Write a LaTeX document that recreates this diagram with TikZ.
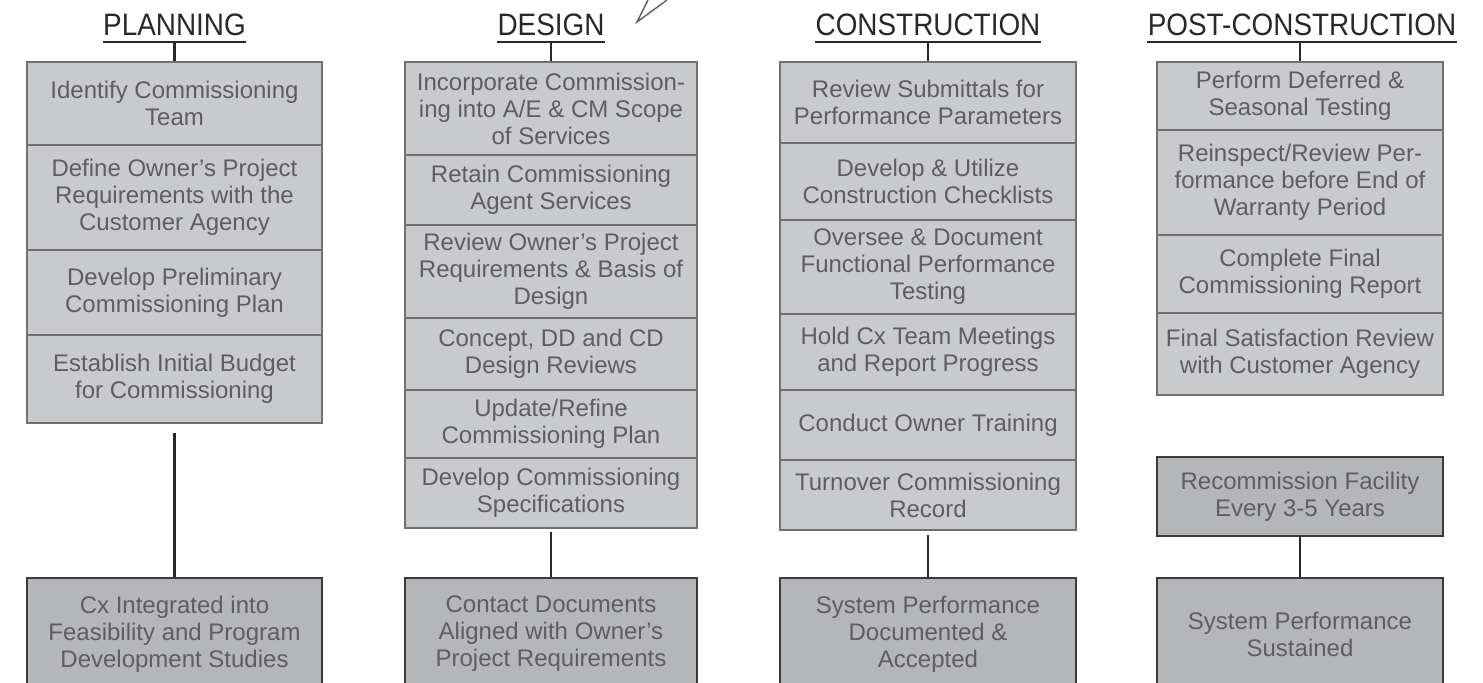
\documentclass[tikz,border=0pt]{standalone}
\usepackage{fontspec}
\setmainfont{Liberation Sans}
\newfontfamily\ttlfont[FakeStretch=0.9]{Liberation Sans}
\definecolor{lfill}{RGB}{201,202,204}
\definecolor{dfill}{RGB}{181,182,184}
\definecolor{lborder}{RGB}{112,112,114}
\definecolor{dborder}{RGB}{58,58,60}
\definecolor{txtgray}{RGB}{94,94,96}
\definecolor{ttl}{RGB}{40,40,42}
\tikzset{
  lbox/.style={draw=lborder, fill=lfill, line width=1.4pt, inner sep=0pt, align=center,
    text=txtgray, font=\fontsize{12}{13.5}\selectfont},
  dbox/.style={lbox, draw=dborder, fill=dfill},
  ttlnode/.style={inner sep=0pt, anchor=base, text=ttl, font=\ttlfont\fontsize{15.5}{17}\selectfont},
  uline/.style={draw=ttl, line width=1.1pt},
  conn/.style={draw=ttl, line width=1.2pt},
  callout/.style={draw=txtgray, line width=0.7pt, line join=miter},
  w1/.style={minimum width=147.5pt},
  w2/.style={minimum width=146pt},
  w3/.style={minimum width=148pt},
  w4/.style={minimum width=143pt},
}
\begin{document}
\begin{tikzpicture}[x=0.5pt,y=-0.5pt]
\useasboundingbox (0,0) rectangle (1483,682);
\fill[white] (0,0) rectangle (1483,682);

% ---------- titles ----------
\node[ttlnode] (t1) at (174.5,35) {PLANNING};
\node[ttlnode] (t2) at (551,35) {DESIGN};
\node[ttlnode] (t3) at (928,35) {CONSTRUCTION};
\node[ttlnode] (t4) at (1302,35) {POST-CONSTRUCTION};
\foreach \t in {t1,t2,t3,t4}{
  \draw[uline] ([yshift=-3.5pt]\t.base west) -- ([yshift=-3.5pt]\t.base east);
}

% callout mark
\coordinate (ca) at (637,22);
\coordinate (cb) at (648,0);
\coordinate (cc) at (667,0);
\draw[callout] (cb) -- (ca) -- (cc);

% ---------- PLANNING ----------
\node[lbox,w1,minimum height=41.5pt] (p1) at (174.5,103.5) {Identify Commissioning\\Team};
\node[lbox,w1,minimum height=52.5pt] (p2) at (174.5,197.5) {Define Owner's Project\\Requirements with the\\Customer Agency};
\node[lbox,w1,minimum height=42.5pt] (p3) at (174.5,292.5) {Develop Preliminary\\Commissioning Plan};
\node[lbox,w1,minimum height=44pt] (p4) at (174.5,379) {Establish Initial Budget\\for Commissioning};
\node[dbox,w1,minimum height=56pt] (pb) at (174.5,634) {Cx Integrated into\\Feasibility and Program\\Development Studies};

% ---------- DESIGN ----------
\node[lbox,w2,minimum height=46.5pt] (d1) at (551,108.5) {Incorporate Commission-\\ing into A/E \& CM Scope\\of Services};
\node[lbox,w2,minimum height=35pt] (d2) at (551,190) {Retain Commissioning\\Agent Services};
\node[lbox,w2,minimum height=46.5pt] (d3) at (551,271.5) {Review Owner's Project\\Requirements \& Basis of\\Design};
\node[lbox,w2,minimum height=36pt] (d4) at (551,354) {Concept, DD and CD\\Design Reviews};
\node[lbox,w2,minimum height=34pt] (d5) at (551,424) {Update/Refine\\Commissioning Plan};
\node[lbox,w2,minimum height=35pt] (d6) at (551,493) {Develop Commissioning\\Specifications};
\node[dbox,w2,minimum height=56pt] (db) at (551,634) {Contact Documents\\Aligned with Owner's\\Project Requirements};

% ---------- CONSTRUCTION ----------
\node[lbox,w3,minimum height=40.5pt] (c1) at (928,102.5) {Review Submittals for\\Performance Parameters};
\node[lbox,w3,minimum height=38.5pt] (c2) at (928,181.5) {Develop \& Utilize\\Construction Checklists};
\node[lbox,w3,minimum height=47pt] (c3) at (928,267) {Oversee \& Document\\Functional Performance\\Testing};
\node[lbox,w3,minimum height=38pt] (c4) at (928,352) {Hold Cx Team Meetings\\and Report Progress};
\node[lbox,w3,minimum height=35pt] (c5) at (928,425) {Conduct Owner Training};
\node[lbox,w3,minimum height=35pt] (c6) at (928,495) {Turnover Commissioning\\Record};
\node[dbox,w3,minimum height=56pt] (cx) at (928,634) {System Performance\\Documented \&\\Accepted};

% ---------- POST-CONSTRUCTION ----------
\node[lbox,w4,minimum height=34pt] (q1) at (1300,96) {Perform Deferred \&\\Seasonal Testing};
\node[lbox,w4,minimum height=52.5pt] (q2) at (1300,182.5) {Reinspect/Review Per-\\formance before End of\\Warranty Period};
\node[lbox,w4,minimum height=39pt] (q3) at (1300,274) {Complete Final\\Commissioning Report};
\node[lbox,w4,minimum height=41pt] (q4) at (1300,354) {Final Satisfaction Review\\with Customer Agency};
\node[dbox,w4,minimum height=39.5pt] (qr) at (1300,496.5) {Recommission Facility\\Every 3-5 Years};
\node[dbox,w4,minimum height=56pt] (qb) at (1300,634) {System Performance\\Sustained};

% ---------- connectors ----------
\draw[conn] ([yshift=-3.5pt]t1.base) -- (p1.north);
\draw[conn] ([yshift=-3.5pt]t2.base) -- (d1.north);
\draw[conn] ([yshift=-3.5pt]t3.base) -- (c1.north);
\draw[conn] ([yshift=-3.5pt]t4.base -| q1.north) -- (q1.north);
\draw[conn, shorten <=4.5pt] (p4.south) -- (pb.north);
\draw[conn, shorten <=1.5pt] (d6.south) -- (db.north);
\draw[conn, shorten <=2pt] (c6.south) -- (cx.north);
\draw[conn] (qr.south) -- (qb.north);
\end{tikzpicture}
\end{document}
